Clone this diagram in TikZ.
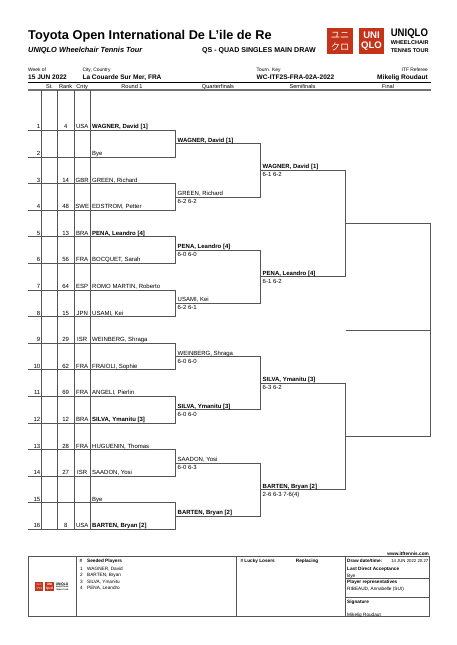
\documentclass[tikz,border=0pt]{standalone}
\usepackage{fontspec}
\setmainfont{Liberation Sans}
\newfontfamily\cjk{Noto Sans CJK JP}
\definecolor{logored}{RGB}{196,52,26}
\definecolor{rulegray}{RGB}{85,85,85}
\tikzset{
  plain/.style={anchor=base west,inner sep=0pt,font=\fontsize{6}{7}\selectfont},
  strong/.style={plain,font=\fontsize{6}{7}\selectfont\bfseries},
  mid/.style={plain,anchor=base},
  flush/.style={plain,anchor=base east},
  colhead/.style={mid,font=\fontsize{5.6}{7}\selectfont},
  tiny/.style={plain,font=\fontsize{4.9}{5}\selectfont},
  headval/.style={plain,font=\fontsize{6.55}{7}\selectfont\bfseries},
  foot/.style={plain,font=\fontsize{4.7}{5}\selectfont},
  footb/.style={plain,font=\fontsize{4.7}{5}\selectfont\bfseries},
  ruleline/.style={draw=rulegray,line width=0.7pt},
  pics/logomark/.style={code={
    \fill[logored] (0,0) rectangle (25.5,25.5);
    \fill[logored] (31.5,0) rectangle (57,25.5);
    \node[text=white,inner sep=0pt,font=\cjk\fontsize{9.2}{10}\selectfont] (ka) at (12.75,7) {ユニ};
    \node[text=white,inner sep=0pt,font=\cjk\fontsize{9.2}{10}\selectfont] (kb) at (12.75,18.5) {クロ};
    \node[text=white,inner sep=0pt,font=\bfseries\fontsize{9.6}{11}\selectfont] (la) at (44.25,7) {UNI};
    \node[text=white,inner sep=0pt,font=\bfseries\fontsize{9.6}{11}\selectfont] (lb) at (44.25,18.5) {QLO};
    \node[anchor=base west,inner sep=0pt,xscale=0.87,font=\bfseries\fontsize{11}{12}\selectfont] (ma) at (63.3,8.3) {UNIQLO};
    \node[anchor=base west,inner sep=0pt,font=\bfseries\fontsize{5.6}{6}\selectfont] (mb) at (63.3,16.8) {WHEELCHAIR};
    \node[anchor=base west,inner sep=0pt,font=\bfseries\fontsize{5.6}{6}\selectfont] (mc) at (63.3,24.3) {TENNIS TOUR};
  }}
}

\begin{document}
\begin{tikzpicture}[x=1pt,y=-1pt]
    \useasboundingbox (0,0) rectangle (456,645);

    % heading
    \node[plain,font=\fontsize{12.75}{14}\selectfont\bfseries] (title) at (28,39.5) {Toyota Open International De L\symbol{39}ile de Re};
    \node[plain,font=\fontsize{7.4}{8}\selectfont\bfseries\itshape] (tour) at (28,52.5) {UNIQLO Wheelchair Tennis Tour};
    \node[plain,font=\fontsize{7.05}{8}\selectfont\bfseries] (draw) at (202,52.5) {QS - QUAD SINGLES MAIN DRAW};
    \pic (top) at (327.3,28) {logomark};

    \node[tiny] (weekhd) at (28,71) {Week of};
    \node[headval] (week) at (28,79.5) {15 JUN 2022};
    \node[tiny] (cityhd) at (82.3,71) {City, Country};
    \node[headval] (city) at (82.3,79.5) {La Couarde Sur Mer, FRA};
    \node[tiny] (keyhd) at (256.5,71) {Tourn. Key};
    \node[headval] (key) at (256.5,79.5) {WC-ITF2S-FRA-02A-2022};
    \node[tiny,anchor=base east] (refhd) at (428,71) {ITF Referee};
    \node[headval,anchor=base east] (ref) at (428,79.5) {Mikelig Roudaut};

    \coordinate (hl) at (28,82.6);
    \coordinate (hr) at (430.5,82.6);
    \coordinate (gl) at (28,90);
    \coordinate (gr) at (430.5,90);
    \draw[line width=0.9pt] (hl) -- (hr);
    \draw[draw=black!55,line width=1.1pt] (gl) -- (gr);

    \node[colhead] (st) at (49.5,88.3) {St.};
    \node[colhead] (rank) at (65.7,88.3) {Rank};
    \node[colhead] (cnty) at (82.2,88.3) {Cnty};
    \node[colhead] (rd1) at (132,88.3) {Round 1};
    \node[colhead] (qf) at (218,88.3) {Quarterfinals};
    \node[colhead] (sf) at (302.5,88.3) {Semifinals};
    \node[colhead] (fin) at (388,88.3) {Final};

    % columns
    \coordinate (ca) at (41.7,90);  \coordinate (cb) at (41.7,529.4);
    \coordinate (cc) at (57.4,90);  \coordinate (cd) at (57.4,529.4);
    \coordinate (ce) at (74,90);    \coordinate (cf) at (74,529.4);
    \coordinate (cg) at (90.3,90);  \coordinate (ch) at (90.3,529.4);
    \draw[ruleline] (ca) -- (cb) (cc) -- (cd) (ce) -- (cf) (cg) -- (ch);

    % first round
    \coordinate (a1) at (28,130.4);   \coordinate (b1) at (175.5,130.4);
    \coordinate (a2) at (28,157);     \coordinate (b2) at (175.5,157);
    \coordinate (a3) at (28,183.6);   \coordinate (b3) at (175.5,183.6);
    \coordinate (a4) at (28,210.2);   \coordinate (b4) at (175.5,210.2);
    \coordinate (a5) at (28,236.8);   \coordinate (b5) at (175.5,236.8);
    \coordinate (a6) at (28,263.4);   \coordinate (b6) at (175.5,263.4);
    \coordinate (a7) at (28,290);     \coordinate (b7) at (175.5,290);
    \coordinate (a8) at (28,316.6);   \coordinate (b8) at (175.5,316.6);
    \coordinate (a9) at (28,343.2);   \coordinate (b9) at (175.5,343.2);
    \coordinate (a10) at (28,369.8);  \coordinate (b10) at (175.5,369.8);
    \coordinate (a11) at (28,396.4);  \coordinate (b11) at (175.5,396.4);
    \coordinate (a12) at (28,423);    \coordinate (b12) at (175.5,423);
    \coordinate (a13) at (28,449.6);  \coordinate (b13) at (175.5,449.6);
    \coordinate (a14) at (28,476.2);  \coordinate (b14) at (175.5,476.2);
    \coordinate (a15) at (28,502.8);  \coordinate (b15) at (175.5,502.8);
    \coordinate (a16) at (28,529.4);  \coordinate (b16) at (175.5,529.4);
    \draw[ruleline] (a1) -- (b1) (a2) -- (b2) (b1) -- (b2);
    \draw[ruleline] (a3) -- (b3) (a4) -- (b4) (b3) -- (b4);
    \draw[ruleline] (a5) -- (b5) (a6) -- (b6) (b5) -- (b6);
    \draw[ruleline] (a7) -- (b7) (a8) -- (b8) (b7) -- (b8);
    \draw[ruleline] (a9) -- (b9) (a10) -- (b10) (b9) -- (b10);
    \draw[ruleline] (a11) -- (b11) (a12) -- (b12) (b11) -- (b12);
    \draw[ruleline] (a13) -- (b13) (a14) -- (b14) (b13) -- (b14);
    \draw[ruleline] (a15) -- (b15) (a16) -- (b16) (b15) -- (b16);

    \node[flush] (n1) at (40.5,128.9) {1};    \node[mid] (r1) at (65.7,128.9) {4};   \node[mid] (c1) at (82.2,128.9) {USA};  \node[strong] (p1) at (92,128.9) {WAGNER, David [1]};
    \node[flush] (n2) at (40.5,155.5) {2};    \node[plain] (p2) at (92,155.5) {Bye};
    \node[flush] (n3) at (40.5,182.1) {3};    \node[mid] (r3) at (65.7,182.1) {14};  \node[mid] (c3) at (82.2,182.1) {GBR};  \node[plain] (p3) at (92,182.1) {GREEN, Richard};
    \node[flush] (n4) at (40.5,208.7) {4};    \node[mid] (r4) at (65.7,208.7) {48};  \node[mid] (c4) at (82.2,208.7) {SWE};  \node[plain] (p4) at (92,208.7) {EDSTROM, Petter};
    \node[flush] (n5) at (40.5,235.3) {5};    \node[mid] (r5) at (65.7,235.3) {13};  \node[mid] (c5) at (82.2,235.3) {BRA};  \node[strong] (p5) at (92,235.3) {PENA, Leandro [4]};
    \node[flush] (n6) at (40.5,261.9) {6};    \node[mid] (r6) at (65.7,261.9) {56};  \node[mid] (c6) at (82.2,261.9) {FRA};  \node[plain] (p6) at (92,261.9) {BOCQUET, Sarah};
    \node[flush] (n7) at (40.5,288.5) {7};    \node[mid] (r7) at (65.7,288.5) {64};  \node[mid] (c7) at (82.2,288.5) {ESP};  \node[plain] (p7) at (92,288.5) {ROMO MARTIN, Roberto};
    \node[flush] (n8) at (40.5,315.1) {8};    \node[mid] (r8) at (65.7,315.1) {15};  \node[mid] (c8) at (82.2,315.1) {JPN};  \node[plain] (p8) at (92,315.1) {USAMI, Kei};
    \node[flush] (n9) at (40.5,341.7) {9};    \node[mid] (r9) at (65.7,341.7) {29};  \node[mid] (c9) at (82.2,341.7) {ISR};  \node[plain] (p9) at (92,341.7) {WEINBERG, Shraga};
    \node[flush] (n10) at (40.5,368.3) {10};  \node[mid] (r10) at (65.7,368.3) {62}; \node[mid] (c10) at (82.2,368.3) {FRA}; \node[plain] (p10) at (92,368.3) {FRAIOLI, Sophie};
    \node[flush] (n11) at (40.5,394.9) {11};  \node[mid] (r11) at (65.7,394.9) {69}; \node[mid] (c11) at (82.2,394.9) {FRA}; \node[plain] (p11) at (92,394.9) {ANGELI, Pierlin};
    \node[flush] (n12) at (40.5,421.5) {12};  \node[mid] (r12) at (65.7,421.5) {12}; \node[mid] (c12) at (82.2,421.5) {BRA}; \node[strong] (p12) at (92,421.5) {SILVA, Ymanitu [3]};
    \node[flush] (n13) at (40.5,448.1) {13};  \node[mid] (r13) at (65.7,448.1) {28}; \node[mid] (c13) at (82.2,448.1) {FRA}; \node[plain] (p13) at (92,448.1) {HUGUENIN, Thomas};
    \node[flush] (n14) at (40.5,474.7) {14};  \node[mid] (r14) at (65.7,474.7) {27}; \node[mid] (c14) at (82.2,474.7) {ISR}; \node[plain] (p14) at (92,474.7) {SAADON, Yosi};
    \node[flush] (n15) at (40.5,501.3) {15};  \node[plain] (p15) at (92,501.3) {Bye};
    \node[flush] (n16) at (40.5,527.9) {16};  \node[mid] (r16) at (65.7,527.9) {8};  \node[mid] (c16) at (82.2,527.9) {USA}; \node[strong] (p16) at (92,527.9) {BARTEN, Bryan [2]};

    % quarterfinals
    \coordinate (qa1) at (175.5,143.7);  \coordinate (qb1) at (260.7,143.7);
    \coordinate (qa2) at (175.5,196.9);  \coordinate (qb2) at (260.7,196.9);
    \coordinate (qa3) at (175.5,250.1);  \coordinate (qb3) at (260.7,250.1);
    \coordinate (qa4) at (175.5,303.3);  \coordinate (qb4) at (260.7,303.3);
    \coordinate (qa5) at (175.5,356.5);  \coordinate (qb5) at (260.7,356.5);
    \coordinate (qa6) at (175.5,409.7);  \coordinate (qb6) at (260.7,409.7);
    \coordinate (qa7) at (175.5,462.9);  \coordinate (qb7) at (260.7,462.9);
    \coordinate (qa8) at (175.5,516.1);  \coordinate (qb8) at (260.7,516.1);
    \draw[ruleline] (qa1) -- (qb1) (qa2) -- (qb2) (qb1) -- (qb2);
    \draw[ruleline] (qa3) -- (qb3) (qa4) -- (qb4) (qb3) -- (qb4);
    \draw[ruleline] (qa5) -- (qb5) (qa6) -- (qb6) (qb5) -- (qb6);
    \draw[ruleline] (qa7) -- (qb7) (qa8) -- (qb8) (qb7) -- (qb8);

    \node[strong] (q1) at (177.5,142.2) {WAGNER, David [1]};
    \node[plain] (q2) at (177.5,195.4) {GREEN, Richard};
    \node[plain] (s2) at (177.5,203.4) {6-2 6-2};
    \node[strong] (q3) at (177.5,248.6) {PENA, Leandro [4]};
    \node[plain] (s3) at (177.5,256.6) {6-0 6-0};
    \node[plain] (q4) at (177.5,301.8) {USAMI, Kei};
    \node[plain] (s4) at (177.5,309.8) {6-2 6-1};
    \node[plain] (q5) at (177.5,355) {WEINBERG, Shraga};
    \node[plain] (s5) at (177.5,363) {6-0 6-0};
    \node[strong] (q6) at (177.5,408.2) {SILVA, Ymanitu [3]};
    \node[plain] (s6) at (177.5,416.2) {6-0 6-0};
    \node[plain] (q7) at (177.5,461.4) {SAADON, Yosi};
    \node[plain] (s7) at (177.5,469.4) {6-0 6-3};
    \node[strong] (q8) at (177.5,514.6) {BARTEN, Bryan [2]};

    % semifinals
    \coordinate (sa1) at (260.7,170.3);  \coordinate (sb1) at (345.5,170.3);
    \coordinate (sa2) at (260.7,276.7);  \coordinate (sb2) at (345.5,276.7);
    \coordinate (sa3) at (260.7,383.1);  \coordinate (sb3) at (345.5,383.1);
    \coordinate (sa4) at (260.7,489.5);  \coordinate (sb4) at (345.5,489.5);
    \draw[ruleline] (sa1) -- (sb1) (sa2) -- (sb2) (sb1) -- (sb2);
    \draw[ruleline] (sa3) -- (sb3) (sa4) -- (sb4) (sb3) -- (sb4);

    \node[strong] (w1) at (262.5,168.8) {WAGNER, David [1]};
    \node[plain] (v1) at (262.5,176.8) {6-1 6-2};
    \node[strong] (w2) at (262.5,275.2) {PENA, Leandro [4]};
    \node[plain] (v2) at (262.5,283.2) {6-1 6-2};
    \node[strong] (w3) at (262.5,381.6) {SILVA, Ymanitu [3]};
    \node[plain] (v3) at (262.5,389.6) {6-3 6-2};
    \node[strong] (w4) at (262.5,488) {BARTEN, Bryan [2]};
    \node[plain] (v4) at (262.5,496) {2-6 6-3 7-6(4)};

    % final
    \coordinate (fa1) at (345.5,223.5);  \coordinate (fb1) at (430.5,223.5);
    \coordinate (fa2) at (345.5,436.3);  \coordinate (fb2) at (430.5,436.3);
    \coordinate (fa3) at (345.5,330.2);  \coordinate (fb3) at (430.5,330.2);
    \draw[ruleline] (fa1) -- (fb1) (fa2) -- (fb2) (fa3) -- (fb3) (fb1) -- (fb2);

    % footer
    \node[foot,anchor=base east,font=\fontsize{4.7}{5}\selectfont\bfseries] (www) at (429,555) {www.itftennis.com};
    \coordinate (fl) at (28,556.8);     \coordinate (fr) at (429.3,616.8);
    \coordinate (fta) at (76,556.8);    \coordinate (fba) at (76,616.8);
    \coordinate (ftb) at (236.5,556.8); \coordinate (fbb) at (236.5,616.8);
    \coordinate (ftc) at (345.5,556.8); \coordinate (fbc) at (345.5,616.8);
    \coordinate (ga) at (345.5,578.4);  \coordinate (gb) at (429.3,578.4);
    \coordinate (gc) at (345.5,597.4);  \coordinate (gd) at (429.3,597.4);
    \draw[ruleline] (fl) rectangle (fr);
    \draw[ruleline] (fta) -- (fba) (ftb) -- (fbb) (ftc) -- (fbc) (ga) -- (gb) (gc) -- (gd);
    \pic[scale=0.33,transform shape] (low) at (35,582.4) {logomark};

    \node[footb] (hash) at (79.5,562.5) {\#};
    \node[footb] (seedhd) at (87,562.5) {Seeded Players};
    \node[foot] (sa) at (80,570) {1};  \node[foot] (na) at (87,570) {WAGNER, David};
    \node[foot] (sb) at (80,576.6) {2};  \node[foot] (nb) at (87,576.6) {BARTEN, Bryan};
    \node[foot] (sc) at (80,583.2) {3};  \node[foot] (nc) at (87,583.2) {SILVA, Ymanitu};
    \node[foot] (sd) at (80,589.8) {4};  \node[foot] (nd) at (87,589.8) {PENA, Leandro};

    \node[footb] (lucky) at (240.3,562.5) {\# Lucky Losers};
    \node[footb] (repl) at (295.7,562.5) {Replacing};

    \node[footb] (dt) at (347,562.5) {Draw date/time:};
    \node[foot,anchor=base east,font=\fontsize{4.3}{5}\selectfont] (dtv) at (428.5,562.5) {14 JUN 2022 20:27};
    \node[footb] (lda) at (347,570) {Last Direct Acceptance};
    \node[foot] (ldv) at (347,577) {Bye};
    \node[footb] (prep) at (347,583.6) {Player representatives};
    \node[foot] (prv) at (347,590) {RIBEAUD, Annabelle (SUI)};
    \node[footb] (sign) at (347,603.4) {Signature};
    \node[foot] (sgv) at (347,616) {Mikelig Roudaut};
\end{tikzpicture}
\end{document}
